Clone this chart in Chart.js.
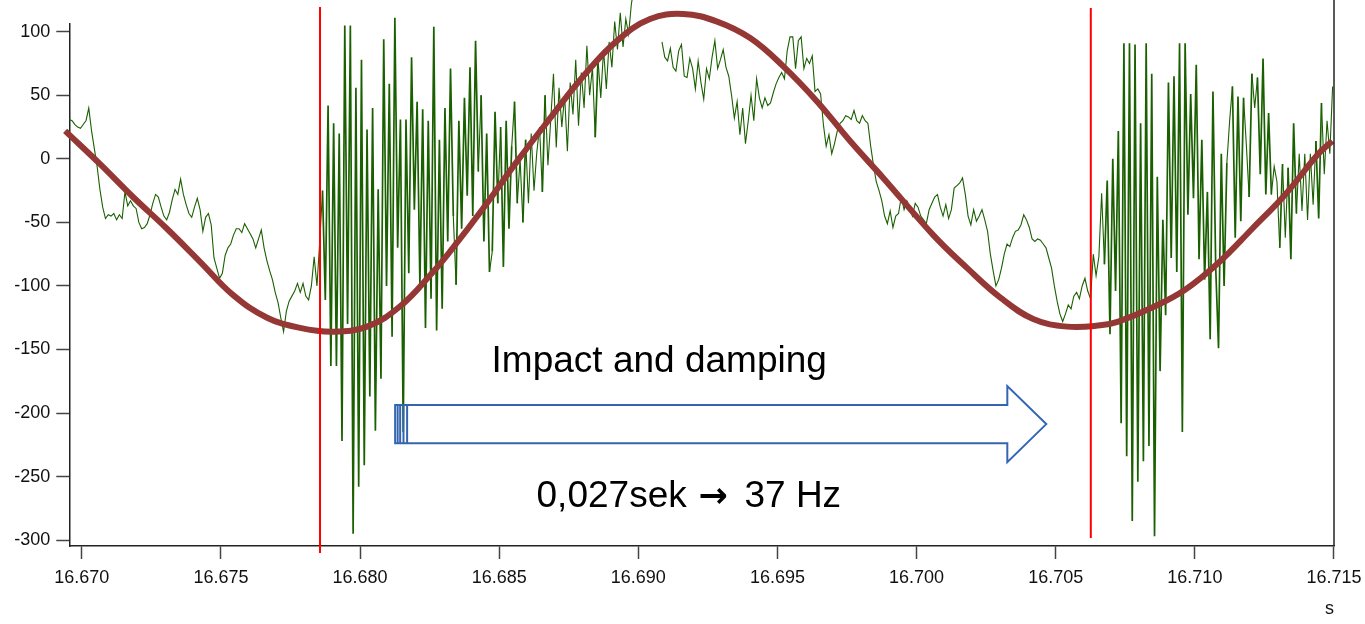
<!DOCTYPE html>
<html>
<head>
<meta charset="utf-8">
<title>Impact and damping</title>
<script src="https://cdn.jsdelivr.net/npm/chart.js@4.4.0/dist/chart.umd.min.js"></script>
<style>
html, body { margin: 0; padding: 0; background: #fff; }
#wrap { width: 1365px; height: 624px; }
</style>
</head>
<body>
<div id="wrap"><canvas id="accel-chart"></canvas></div>
<script>
// measured signal, one sample every 0.1 ms
var sampleStart = 16.66955;
var sampleStep = 0.0001;
var accel = [
    // before first impact
    31,30,27,25,24,27,30,40,22,8,
    -6,-24,-38,-47,-44,-45,-43,-48,-44,-47,
    -26,-37,-33,-37,-39,-50,-55,-54,-51,-44,
    -35,-28,-30,-38,-45,-48,-42,-32,-24,-28,
    -16,-28,-36,-43,-46,-38,-31,-40,-57,-46,
    -43,-52,-78,-86,-94,-90,-76,-70,-67,-60,
    -55,-55,-58,-51,-55,-59,-63,-70,-63,-56,
    -70,-80,-88,-95,-105,-113,-125,-136,-120,-112,
    -108,-104,-98,-105,-98,-108,-111,-100,-77,-100,
    // first impact
    -65,-25,-111,42,-163,28,-163,20,-222,105,
    -130,105,-295,56,-258,78,-241,23,-187,40,
    -214,-24,-173,94,-100,59,-140,111,-70,31,
    -215,31,-90,80,-40,45,-100,39,-133,30,
    -110,104,-135,15,-118,40,-65,71,-45,-99,
    30,-55,48,-29,72,-45,93,-10,50,-65,
    20,-89,-73,37,-35,25,-85,30,-55,10,
    45,-35,0,
    -50,15,-35,20,-25,5,25,-26,50,-5,
    30,67,9,56,25,50,6,60,35,78,
    26,68,40,89,50,72,17,78,48,86,
    55,92,72,108,86,115,88,110,98,122,
    // over range
    135,null,null,null,null,null,null,null,null,null,
    // between impacts
    92,80,77,87,72,69,85,90,65,64,
    79,71,55,77,60,47,71,63,80,93,
    71,78,86,72,65,50,32,45,19,40,
    12,30,50,30,63,48,40,48,42,44,
    52,59,64,68,63,85,96,96,71,93,
    96,71,79,75,81,53,55,51,27,10,
    19,4,12,22,28,30,34,33,31,38,
    30,28,34,30,28,10,-5,-18,-25,-33,
    -45,-51,-41,-54,-45,-43,-30,-40,-33,-38,
    -45,-35,-38,-45,-48,-51,-40,-35,-30,-28,
    -38,-45,-36,-47,-40,-23,-21,-19,-15,-28,
    -45,-52,-40,-49,-45,-40,-48,-57,-75,-88,
    -100,-95,-86,-75,-67,-69,-62,-57,-56,-52,
    -44,-48,-54,-63,-65,-63,-64,-67,-70,-78,
    -86,-100,-112,-122,-128,-122,-115,-118,-108,-105,
    -110,-100,-94,-104,-110,
    // second impact
    -75,-92,-77,-27,-83,-17,-138,0,-104,22,
    -208,91,-234,91,-285,90,-254,28,-238,91,
    -226,67,-297,-14,-167,-48,-123,60,-78,65,
    -89,91,-215,91,-44,51,-31,74,-79,15,
    -95,-26,-142,53,-86,-149,4,-100,-3,30,
    57,-62,49,-49,48,11,-30,67,40,64,
    -12,79,-28,36,-28,-6,-18,-70,-4,-62,
    -7,-79,28,-43,4,-41,4,-48,4,-36,
    14,-47,44,-12,30,4,57
];

// slow swing (fitted curve)
var fitTimes = [16.66940,16.67065,16.67184,16.67306,16.67425,16.67543,16.67666,16.67784,16.67903,16.68025,
    16.68144,16.68262,16.68323,16.68442,16.68564,16.68683,16.68802,16.68924,16.69042,16.69161,
    16.69283,16.69402,16.69520,16.69643,16.69761,16.69880,16.70060,16.70182,16.70300,16.70419,
    16.70541,16.70660,16.70725,16.70847,16.70965,16.71084,16.71206,16.71325,16.71444,16.71494];
var fitValues = [22,-4,-30,-55,-81,-107,-125,-133,-136,-132,
    -116,-89,-73,-39,-2,32,65,93,110,114,
    108,95,73,45,14,-15,-60,-86,-109,-126,
    -132,-131,-128,-117,-103,-82,-55,-28,4,14];

// impact markers
var markerTimes = [16.67856, 16.70626];
var markerTop = [119.4, 118.6];
var markerBottom = [-310.2, -298.3];

// arrow and notes
var arrowTail = [16.68126, 16.68135, 16.68144, 16.68156, 16.68169];
var arrowHead = [16.70326, 16.70466];
var arrowShaft = [-193.7, -223.8];
var arrowWings = [-178.8, -238.6];
var notes = ['Impact and damping', '0,027sek', '\u2192', '37 Hz'];
var noteX = [16.69075, 16.68904, 16.69269, 16.69555];
var noteY = [-167.5, -273.7, -273.7, -273.7];

var accelPoints = accel.map(function (v, i) {
    return {x: sampleStart + i * sampleStep, y: v};
});
var fitPoints = fitTimes.map(function (t, i) {
    return {x: t, y: fitValues[i]};
});
var markerSets = markerTimes.map(function (t, i) {
    return {
        data: [{x: t, y: markerTop[i]}, {x: t, y: markerBottom[i]}],
        borderColor: '#ff0000',
        borderWidth: 2,
        pointRadius: 0,
        clip: false
    };
});

var fontName = "'Liberation Sans', Arial, sans-serif";

var overlay = {
    id: 'overlay',
    afterDatasetsDraw: function (chart) {
        var ctx = chart.ctx, area = chart.chartArea;
        var x = chart.scales.x, y = chart.scales.y;
        ctx.save();
        // right frame
        ctx.strokeStyle = '#222';
        ctx.lineWidth = 1.5;
        ctx.beginPath();
        ctx.moveTo(area.right, 0);
        ctx.lineTo(area.right, area.bottom);
        ctx.stroke();

        // block arrow
        var x0 = x.getPixelForValue(arrowTail[0]);
        var xb = x.getPixelForValue(arrowHead[0]);
        var xt = x.getPixelForValue(arrowHead[1]);
        var yt = y.getPixelForValue(arrowShaft[0]);
        var yb = y.getPixelForValue(arrowShaft[1]);
        var wt = y.getPixelForValue(arrowWings[0]);
        var wb = y.getPixelForValue(arrowWings[1]);
        ctx.strokeStyle = '#3465b0';
        ctx.lineWidth = 2;
        ctx.beginPath();
        ctx.moveTo(x0, yt);
        ctx.lineTo(xb, yt);
        ctx.lineTo(xb, wt);
        ctx.lineTo(xt, (wt + wb) / 2);
        ctx.lineTo(xb, wb);
        ctx.lineTo(xb, yb);
        ctx.lineTo(x0, yb);
        ctx.closePath();
        ctx.stroke();
        for (var k = 1; k < arrowTail.length; k++) {
            var xs = x.getPixelForValue(arrowTail[k]);
            ctx.beginPath();
            ctx.moveTo(xs, yt);
            ctx.lineTo(xs, yb);
            ctx.stroke();
        }

        // notes
        ctx.fillStyle = '#000';
        ctx.textAlign = 'center';
        ctx.textBaseline = 'alphabetic';
        for (var n = 0; n < notes.length; n++) {
            ctx.font = notes[n] === '\u2192' ? "bold 35px 'DejaVu Sans', sans-serif" : '37px ' + fontName;
            ctx.fillText(notes[n], x.getPixelForValue(noteX[n]), y.getPixelForValue(noteY[n]));
        }
        ctx.restore();
    }
};

new Chart(document.getElementById('accel-chart'), {
    type: 'line',
    data: {
        datasets: markerSets.concat([
            {
                label: 'fit',
                data: fitPoints,
                borderColor: '#953735',
                borderWidth: 6,
                pointRadius: 0,
                tension: 0.4,
                clip: false
            },
            {
                label: 'signal',
                data: accelPoints,
                borderColor: '#1a6000',
                borderWidth: 1.1,
                pointRadius: 0,
                spanGaps: false,
                clip: false,
                segment: {
                    // steep impact strokes look heavier in the original
                    borderWidth: function (c) {
                        return Math.abs(c.p1.parsed.y - c.p0.parsed.y) > 60 ? 1.7 : 1.1;
                    }
                }
            }
        ])
    },
    options: {
        responsive: true,
        maintainAspectRatio: false,
        animation: false,
        layout: {padding: {top: 24, right: 31, left: 0, bottom: 0}},
        plugins: {
            legend: {display: false},
            tooltip: {enabled: false}
        },
        scales: {
            x: {
                type: 'linear',
                min: 16.66955,
                max: 16.7150001,
                afterFit: function (s) {
                    s.height = 78;
                    s.paddingLeft = 0;
                    s.paddingRight = 0;
                },
                ticks: {
                    stepSize: 0.005,
                    includeBounds: false,
                    autoSkip: false,
                    maxRotation: 0,
                    padding: 8,
                    color: '#111',
                    font: {family: fontName, size: 18},
                    callback: function (v) { return Number(v).toFixed(3); }
                },
                grid: {drawOnChartArea: false, drawTicks: true, tickLength: 13, tickColor: '#444', tickWidth: 1.5},
                border: {color: '#222', width: 1.5},
                title: {display: true, text: 's', align: 'end', color: '#111', font: {family: fontName, size: 18}}
            },
            y: {
                min: -304.6,
                max: 106.1,
                afterFit: function (s) {
                    s.width = 69.3;
                    s.paddingTop = 0;
                    s.paddingBottom = 0;
                },
                ticks: {
                    stepSize: 50,
                    includeBounds: false,
                    padding: 6,
                    color: '#111',
                    font: {family: fontName, size: 18}
                },
                grid: {drawOnChartArea: false, drawTicks: true, tickLength: 13, tickColor: '#444', tickWidth: 1.5},
                border: {color: '#222', width: 1.5}
            }
        }
    },
    plugins: [overlay]
});
</script>
</body>
</html>
